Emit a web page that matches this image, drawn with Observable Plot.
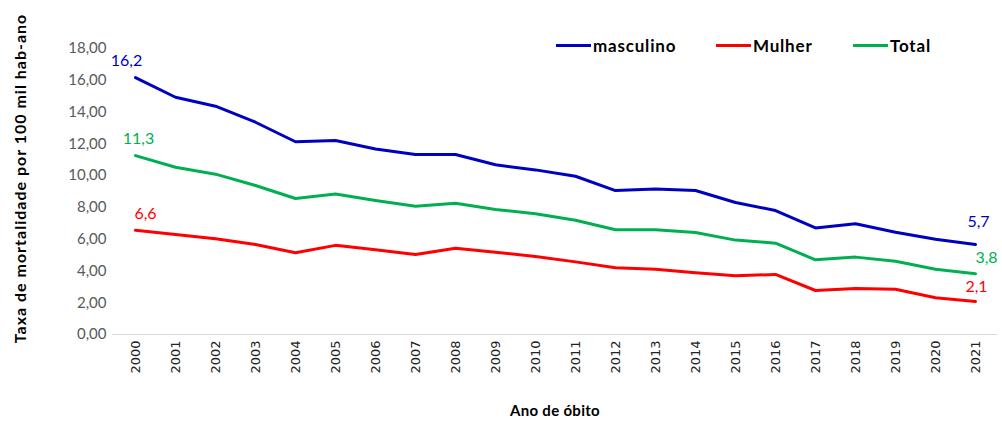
<!DOCTYPE html>
<html><head><meta charset="utf-8">
<script src="https://cdn.jsdelivr.net/npm/d3@7"></script>
<script src="https://cdn.jsdelivr.net/npm/@observablehq/plot@0.6"></script>
<style>
body{margin:0;background:#fff;}
#wrap{position:relative;width:1002px;height:421px;}
.leg{position:absolute;top:35px;height:20px;display:flex;align-items:center;font:bold 17px Lato,sans-serif;letter-spacing:0.8px;color:#000;white-space:nowrap;}
.leg i{display:inline-block;width:35px;height:3px;margin-right:2px;}
</style></head><body><div id="wrap"></div>
<script>
const years = [2000,2001,2002,2003,2004,2005,2006,2007,2008,2009,2010,2011,2012,2013,2014,2015,2016,2017,2018,2019,2020,2021];
const masculino = [16.17,14.93,14.37,13.36,12.13,12.21,11.68,11.33,11.33,10.68,10.36,9.96,9.06,9.15,9.06,8.31,7.80,6.71,6.97,6.44,6.00,5.66];
const mulher = [6.56,6.29,6.02,5.66,5.14,5.61,5.33,5.03,5.43,5.18,4.91,4.57,4.20,4.11,3.88,3.69,3.78,2.77,2.90,2.85,2.31,2.08];
const total = [11.26,10.53,10.09,9.38,8.56,8.84,8.43,8.07,8.26,7.87,7.60,7.19,6.59,6.59,6.42,5.94,5.75,4.70,4.87,4.61,4.11,3.82];
const seriesNames = ["masculino","Mulher","Total"];
const seriesColors = ["#0000C0","#FF0000","#00B050"];
const yTicks = [0,2,4,6,8,10,12,14,16,18];
const yTitle = "Taxa de mortalidade por 100 mil hab-ano";
const xTitle = "Ano de óbito";

const seriesValues = [masculino, mulher, total];
const rows = [];
seriesNames.forEach((s, i) => years.forEach((yr, j) => rows.push({serie: s, year: yr, value: seriesValues[i][j]})));

const fmt1 = v => v.toFixed(1).replace(".", ",");
const fmt2 = v => v.toFixed(2).replace(".", ",");
const pick = (s, yr) => rows.filter(r => r.serie === s && r.year === yr);

// label offsets (style only): [serie, year, dx, dy]
const labelSpecs = [
  ["masculino", 2000, -9, -12],
  ["Total", 2000, 3, -12],
  ["Mulher", 2000, 10, -11],
  ["masculino", 2021, 3, -18],
  ["Total", 2021, 11, -11],
  ["Mulher", 2021, 1, -9]
];

const chart = Plot.plot({
  width: 1002, height: 421,
  marginTop: 48, marginBottom: 87, marginLeft: 112, marginRight: 5,
  style: {fontFamily: "Lato, sans-serif", background: "#fff"},
  x: {type: "point", domain: years, padding: 0.5},
  y: {domain: [0, 18]},
  color: {domain: seriesNames, range: seriesColors},
  marks: [
    Plot.ruleY([0], {stroke: "#d9d9d9", strokeWidth: 1}),
    Plot.axisY(yTicks, {tickSize: 0, tickPadding: 6, tickFormat: fmt2, fontSize: 15, fill: "#595959", label: null}),
    Plot.axisX(years, {tickSize: 0, tickPadding: 6, tickRotate: -90, tickFormat: d => String(d), fontSize: 13, fill: "#222", label: null}),
    Plot.line(rows, {x: "year", y: "value", z: "serie", stroke: "serie", strokeWidth: 3, curve: "linear"}),
    ...labelSpecs.map(([s, yr, dx, dy]) => Plot.text(pick(s, yr), {
      x: "year", y: "value", text: d => fmt1(d.value), fill: "serie",
      dx, dy, textAnchor: "middle", lineAnchor: "bottom", fontSize: 16
    })),
    Plot.text([yTitle], {frameAnchor: "left", text: d => d, rotate: -90, dx: -92, dy: -13,
      fontSize: 16, fontWeight: "bold", fill: "#000", textAnchor: "middle", lineAnchor: "middle"}),
    Plot.text([xTitle], {frameAnchor: "bottom", text: d => d, dy: 77,
      fontSize: 15, fontWeight: "bold", fill: "#000", textAnchor: "middle", lineAnchor: "middle"})
  ]
});

const wrap = document.getElementById("wrap");
wrap.appendChild(chart);

const svg = d3.select(chart);
svg.selectAll('g[aria-label="x-axis tick label"]').attr("font-family", "'DejaVu Sans', sans-serif");
svg.selectAll("g[aria-label='text'] text").filter(function () { return this.textContent === yTitle; }).style("letter-spacing", "1px");
svg.selectAll("g[aria-label='text'] text").filter(function () { return this.textContent === xTitle; }).style("letter-spacing", "0.3px");

const legendLeft = [556, 716, 853];
seriesNames.forEach((s, i) => {
  const d = document.createElement("div");
  d.className = "leg";
  d.style.left = legendLeft[i] + "px";
  const sw = document.createElement("i");
  sw.style.background = seriesColors[i];
  d.appendChild(sw);
  d.appendChild(document.createTextNode(s));
  wrap.appendChild(d);
});
</script>
</body></html>
